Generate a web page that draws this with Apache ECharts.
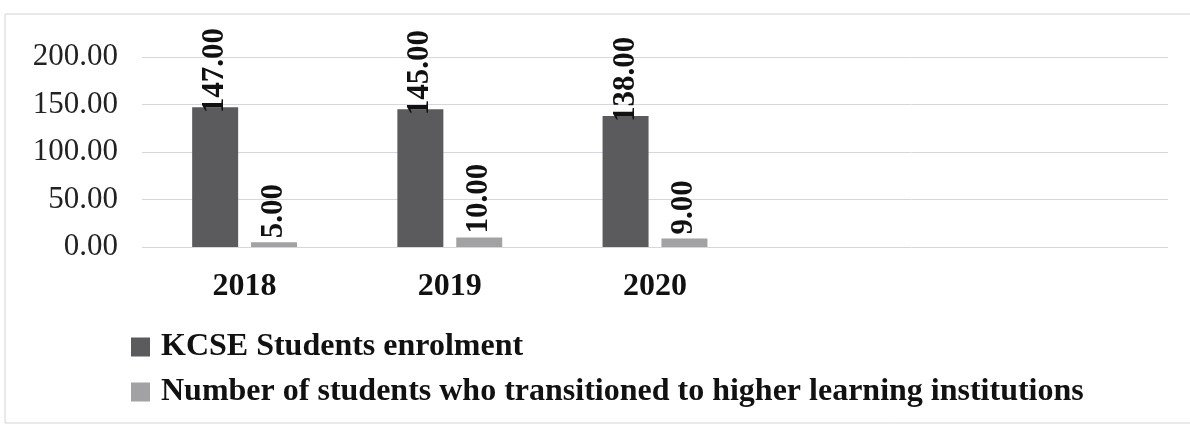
<!DOCTYPE html>
<html>
<head>
<meta charset="utf-8">
<title>KCSE enrolment and transition</title>
<script src="https://cdn.jsdelivr.net/npm/echarts@6/dist/echarts.min.js"></script>
<style>
  html, body { margin: 0; padding: 0; background: #fff; }
  #chart { width: 1190px; height: 426px; }
</style>
</head>
<body>
<div id="chart"></div>
<script type="text/javascript">
// data
var years = ['2018', '2019', '2020', '', ''];
var enrolment = [147, 145, 138];
var transitioned = [5, 10, 9];
var seriesNames = ['KCSE Students enrolment', 'Number of students who transitioned to higher learning institutions'];
var yTicks = [0, 50, 100, 150, 200];

var serif = 'Liberation Serif';

function fmt(v) { return Number(v).toFixed(2); }

var chart = echarts.init(document.getElementById('chart'));
chart.setOption({
    animation: false,
    backgroundColor: '#fff',
    graphic: [{
        type: 'rect',
        shape: { x: 5, y: 14, width: 1200, height: 409 },
        style: { fill: 'none', stroke: '#d4d4d8', lineWidth: 1 },
        silent: true
    }],
    grid: { left: 142, right: 22, top: 57, bottom: 179 },
    legend: {
        orient: 'vertical',
        left: 126,
        top: 326,
        itemWidth: 19,
        itemHeight: 19,
        itemGap: 13,
        icon: 'rect',
        data: seriesNames,
        textStyle: {
            fontFamily: serif,
            fontWeight: 'bold',
            fontSize: 32,
            color: '#111',
            padding: [0, 0, 0, 6]
        }
    },
    xAxis: {
        type: 'category',
        data: years,
        axisLine: { show: false },
        axisTick: { show: false },
        axisLabel: {
            margin: 24,
            fontFamily: serif,
            fontWeight: 'bold',
            fontSize: 32,
            color: '#111'
        }
    },
    yAxis: {
        type: 'value',
        min: yTicks[0],
        max: yTicks[yTicks.length - 1],
        interval: 50,
        axisLine: { show: false },
        axisTick: { show: false },
        splitLine: { lineStyle: { color: '#d6d6de', width: 1 } },
        axisLabel: {
            margin: 24,
            fontFamily: serif,
            fontSize: 31,
            color: '#222',
            formatter: fmt
        }
    },
    series: [{
        name: seriesNames[0],
        type: 'bar',
        data: enrolment,
        barWidth: 46,
        barGap: '28%',
        itemStyle: { color: '#5b5b5d' },
        label: {
            show: true,
            position: 'top',
            rotate: 90,
            align: 'left',
            verticalAlign: 'middle',
            distance: -6,
            fontFamily: serif,
            fontWeight: 'bold',
            fontSize: 31,
            color: '#111',
            formatter: function (p) { return fmt(p.value); }
        }
    }, {
        name: seriesNames[1],
        type: 'bar',
        data: transitioned,
        barWidth: 46,
        barGap: '28%',
        itemStyle: { color: '#a2a2a4' },
        label: {
            show: true,
            position: 'top',
            rotate: 90,
            align: 'left',
            verticalAlign: 'middle',
            distance: 4,
            fontFamily: serif,
            fontWeight: 'bold',
            fontSize: 31,
            color: '#111',
            formatter: function (p) { return fmt(p.value); }
        }
    }]
});
</script>
</body>
</html>
